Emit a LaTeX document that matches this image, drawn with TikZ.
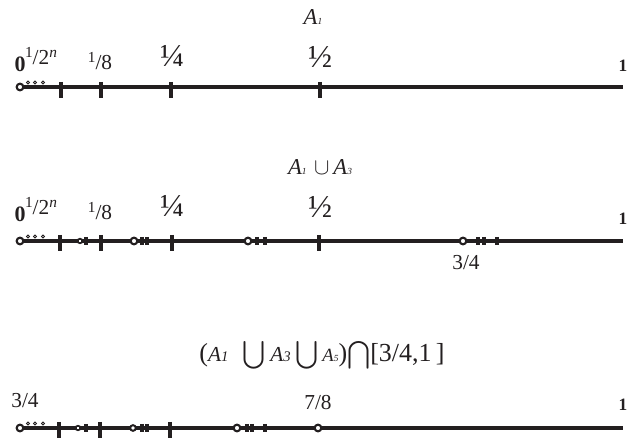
\documentclass[tikz,border=0pt]{standalone}
\usepackage{amsmath}
\usepackage{fontspec}
\setmainfont{Liberation Serif}
\usepackage{xcolor}

\definecolor{ink}{RGB}{35,31,32}

\newcommand\up[1]{\raisebox{0.36em}{\fontsize{11.5}{12}\selectfont #1}}
\newcommand\halfn{\up{1}/2\up{\textit{n}}}
\newcommand\tinysub[1]{{\fontsize{7}{8}\selectfont\textit{#1}}}
\newcommand\midsub[1]{{\fontsize{11}{12}\selectfont\textit{#1}}}

\begin{document}
\begin{tikzpicture}[x={(0.75pt,0)},y={(0,-0.75pt)},
    axis/.style={draw=ink,line width=2.6pt},
    bigtick/.style={draw=ink,line width=2.6pt},
    smalltick/.style={draw=ink,line width=2.3pt},
    hole/.style={circle,draw=ink,fill=white,line width=1.6pt,inner sep=0pt,minimum size=5pt},
    midhole/.style={hole,minimum size=4.2pt,line width=1.5pt},
    smallhole/.style={hole,minimum size=3.4pt,line width=1.3pt},
    speck/.style={circle,draw=ink,fill=white,line width=0.6pt,inner sep=0pt,minimum size=2.3pt},
    lbl/.style={text=ink,anchor=base,inner sep=0pt,font=\fontsize{16}{18}\selectfont},
    frac/.style={lbl,font=\fontsize{24}{26}\selectfont},
    zero/.style={lbl,font=\fontsize{16.5}{18}\selectfont\bfseries},
    one/.style={lbl,font=\fontsize{13}{14}\selectfont\bfseries},
    title/.style={text=ink,anchor=base,inner sep=0pt,font=\fontsize{17}{19}\selectfont}]

  \useasboundingbox (0,0) rectangle (629,441);

  % first line: A_1
  \node[title] (t1) at (313,25) {\textit{A}\tinysub{1}};
  \coordinate (o1) at (20,87);
  \coordinate (e1) at (623,87);
  \draw[axis] (o1) -- (e1);
  \foreach \x in {61,101,171,320}
    \draw[bigtick] (\x,82) -- (\x,98);
  \foreach \x in {28,35,43}
    \node[speck] (d1-\x) at (\x,82.5) {};
  \node[hole] (h1) at (o1) {};
  \node[zero] (z1) at (20,72) {0};
  \node[lbl] (n1) at (41,65) {\halfn};
  \node[lbl] (q1) at (100,70) {\up{1}/8};
  \node[frac] (f1) at (172,67) {¼};
  \node[frac] (g1) at (320,68) {½};
  \node[one] (u1) at (623,72) {1};

  % second line: A_1 cup A_3
  \node[title] (t2) at (320,175) {\textit{A}\tinysub{1}\,\,$\cup$\,\textit{A}\tinysub{3}};
  \coordinate (o2) at (20,241);
  \coordinate (e2) at (623,241);
  \draw[axis] (o2) -- (e2);
  \foreach \x in {60,101,172,319}
    \draw[bigtick] (\x,235) -- (\x,251);
  \foreach \x in {86,142,147,257,265,478,484,497}
    \draw[smalltick] (\x,237) -- (\x,245);
  \foreach \x in {28,35,43}
    \node[speck] (d2-\x) at (\x,236.5) {};
  \node[hole] (h2) at (o2) {};
  \node[smallhole] (p2a) at (80,241) {};
  \node[hole] (p2b) at (134,241) {};
  \node[hole] (p2c) at (248,241) {};
  \node[hole] (p2d) at (463,241) {};
  \node[zero] (z2) at (20,222) {0};
  \node[lbl] (n2) at (41,215) {\halfn};
  \node[lbl] (q2) at (100,220) {\up{1}/8};
  \node[frac] (f2) at (172,217) {¼};
  \node[frac] (g2) at (320,218) {½};
  \node[one] (u2) at (623,225) {1};
  \node[lbl] (m2) at (466,270) {3/4};

  % third line: restricted to [3/4,1]
  \node[title,font=\fontsize{19.5}{21}\selectfont] (t3) at (322,362) {({\fontsize{16}{18}\selectfont\textit{A}\midsub{1}}\;\;$\bigcup$\,{\fontsize{16}{18}\selectfont\textit{A}\midsub{3}}\,$\bigcup$\,{\fontsize{14}{16}\selectfont\textit{A}\tinysub{5}})$\bigcap$[3/4,1\,]};
  \coordinate (o3) at (20,428);
  \coordinate (e3) at (623,428);
  \draw[axis] (o3) -- (e3);
  \foreach \x in {59,100,170}
    \draw[bigtick] (\x,422) -- (\x,438);
  \foreach \x in {86,142,147,247,252,265}
    \draw[smalltick] (\x,424) -- (\x,432);
  \foreach \x in {28,35,43}
    \node[speck] (d3-\x) at (\x,423.5) {};
  \node[hole] (h3) at (o3) {};
  \node[smallhole] (p3a) at (78,428) {};
  \node[midhole] (p3b) at (133,428) {};
  \node[hole] (p3c) at (237,428) {};
  \node[hole] (p3d) at (318,428) {};
  \node[lbl] (z3) at (25,408) {3/4};
  \node[lbl] (s3) at (318,410) {7/8};
  \node[one] (u3) at (623,411) {1};
\end{tikzpicture}
\end{document}
